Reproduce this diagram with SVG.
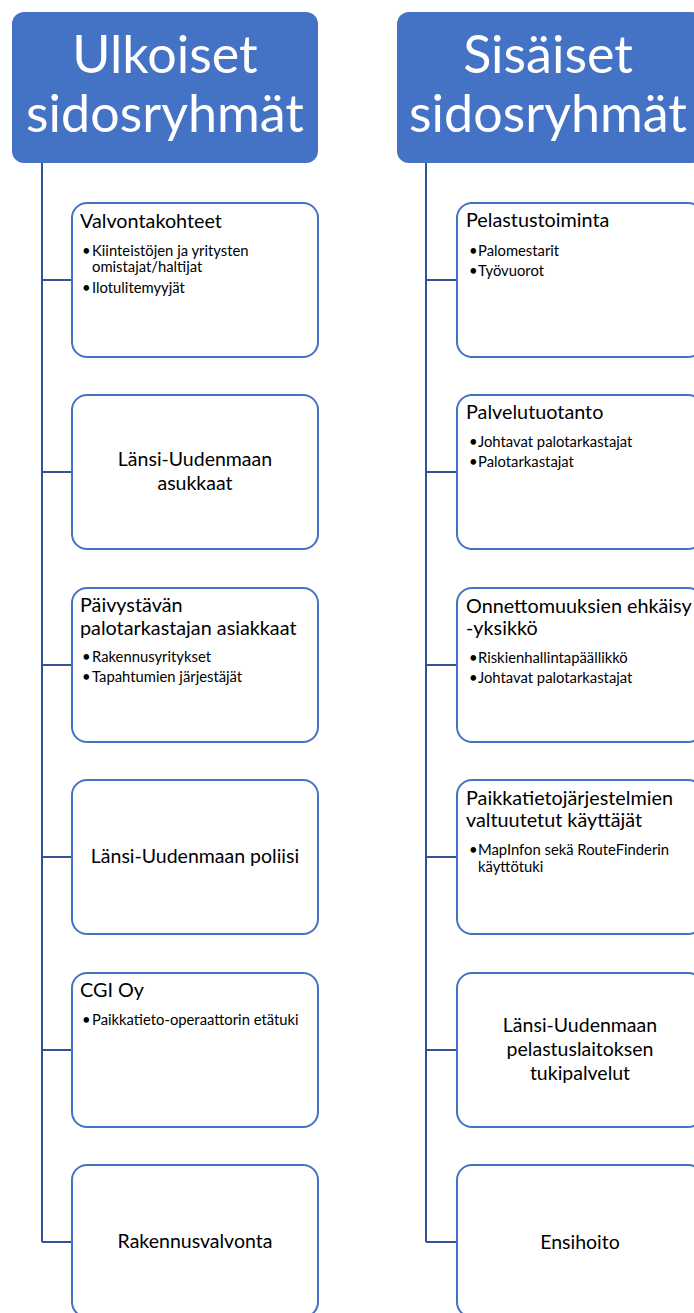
<svg xmlns="http://www.w3.org/2000/svg" width="694" height="1313" viewBox="0 0 694 1313">
<style>
.hdr{fill:#4472C4;}
.ht{font-family:Lato,"Liberation Sans",sans-serif;font-size:52px;font-weight:400;fill:#fff;text-anchor:middle;}
.box{fill:#fff;stroke:#4472C4;stroke-width:2;}
.t{font-family:Lato,"Liberation Sans",sans-serif;font-size:19.8px;fill:#000;}
.c{font-family:Lato,"Liberation Sans",sans-serif;font-size:19.5px;fill:#000;text-anchor:middle;}
.b{font-family:Lato,"Liberation Sans",sans-serif;font-size:14.8px;fill:#000;}
.ln{fill:none;stroke:#2F5597;stroke-width:2;}
</style>
<rect width="694" height="1313" fill="#fff"/>
<g id="connectors">
<path class="ln" d="M42,163 V1242 M42,280 H72 M42,472 H72 M42,665 H72 M42,857 H72 M42,1050 H72 M42,1242 H72"/>
<path class="ln" d="M426,163 V1242 M426,280 H457 M426,472 H457 M426,665 H457 M426,857 H457 M426,1050 H457 M426,1242 H457"/>
</g>
<g id="hdr-left">
<rect class="hdr" x="12" y="12" width="306" height="151" rx="12"/>
<text class="ht" x="165" y="73">Ulkoiset</text>
<text class="ht" x="165" y="132">sidosryhmät</text>
</g>
<g id="hdr-right">
<rect class="hdr" x="397" y="12" width="306" height="151" rx="12"/>
<text class="ht" x="548" y="73">Sisäiset</text>
<text class="ht" x="548" y="132">sidosryhmät</text>
</g>
<g id="l1">
<rect class="box" x="72" y="203" width="246" height="154" rx="15"/>
<text class="t" x="80" y="228">Valvontakohteet</text>
<text class="b" x="82" y="256">•</text><text class="b" x="92" y="256">Kiinteistöjen ja yritysten</text>
<text class="b" x="92" y="272">omistajat/haltijat</text>
<text class="b" x="82" y="293">•</text><text class="b" x="92" y="293">Ilotulitemyyjät</text>
</g>
<g id="l2">
<rect class="box" x="72" y="395" width="246" height="154" rx="15"/>
<text class="c" x="195" y="466">Länsi-Uudenmaan</text>
<text class="c" x="195" y="490">asukkaat</text>
</g>
<g id="l3">
<rect class="box" x="72" y="588" width="246" height="154" rx="15"/>
<text class="t" x="80" y="612">Päivystävän</text>
<text class="t" x="80" y="635">palotarkastajan asiakkaat</text>
<text class="b" x="82" y="662">•</text><text class="b" x="92" y="662">Rakennusyritykset</text>
<text class="b" x="82" y="682">•</text><text class="b" x="92" y="682">Tapahtumien järjestäjät</text>
</g>
<g id="l4">
<rect class="box" x="72" y="780" width="246" height="154" rx="15"/>
<text class="c" x="195" y="863">Länsi-Uudenmaan poliisi</text>
</g>
<g id="l5">
<rect class="box" x="72" y="973" width="246" height="154" rx="15"/>
<text class="t" x="80" y="997">CGI Oy</text>
<text class="b" x="82" y="1025">•</text><text class="b" x="92" y="1025">Paikkatieto-operaattorin etätuki</text>
</g>
<g id="l6">
<rect class="box" x="72" y="1165" width="246" height="152" rx="15"/>
<text class="c" x="195" y="1248">Rakennusvalvonta</text>
</g>
<g id="r1">
<rect class="box" x="457" y="203" width="246" height="154" rx="15"/>
<text class="t" x="466" y="227">Pelastustoiminta</text>
<text class="b" x="469" y="256">•</text><text class="b" x="478" y="256">Palomestarit</text>
<text class="b" x="469" y="276">•</text><text class="b" x="478" y="276">Työvuorot</text>
</g>
<g id="r2">
<rect class="box" x="457" y="395" width="246" height="154" rx="15"/>
<text class="t" x="466" y="419">Palvelutuotanto</text>
<text class="b" x="469" y="447">•</text><text class="b" x="478" y="447">Johtavat palotarkastajat</text>
<text class="b" x="469" y="467">•</text><text class="b" x="478" y="467">Palotarkastajat</text>
</g>
<g id="r3">
<rect class="box" x="457" y="588" width="246" height="154" rx="15"/>
<text class="t" x="466" y="613">Onnettomuuksien ehkäisy</text>
<text class="t" x="466" y="635">-yksikkö</text>
<text class="b" x="469" y="663">•</text><text class="b" x="478" y="663">Riskienhallintapäällikkö</text>
<text class="b" x="469" y="683">•</text><text class="b" x="478" y="683">Johtavat palotarkastajat</text>
</g>
<g id="r4">
<rect class="box" x="457" y="780" width="246" height="154" rx="15"/>
<text class="t" x="466" y="805">Paikkatietojärjestelmien</text>
<text class="t" x="466" y="827">valtuutetut käyttäjät</text>
<text class="b" x="469" y="855">•</text><text class="b" x="478" y="855">MapInfon sekä RouteFinderin</text>
<text class="b" x="478" y="872">käyttötuki</text>
</g>
<g id="r5">
<rect class="box" x="457" y="973" width="246" height="154" rx="15"/>
<text class="c" x="580" y="1032">Länsi-Uudenmaan</text>
<text class="c" x="580" y="1056">pelastuslaitoksen</text>
<text class="c" x="580" y="1080">tukipalvelut</text>
</g>
<g id="r6">
<rect class="box" x="457" y="1165" width="246" height="152" rx="15"/>
<text class="c" x="580" y="1249">Ensihoito</text>
</g>
</svg>
